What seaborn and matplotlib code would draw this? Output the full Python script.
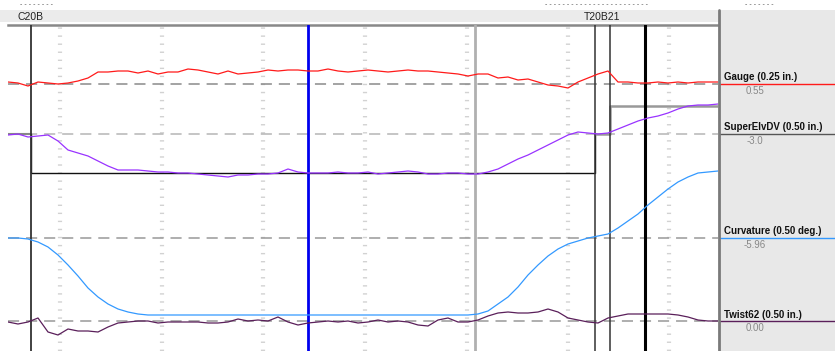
import numpy as np
import pandas as pd
import matplotlib
matplotlib.use("Agg")
import matplotlib.pyplot as plt
from matplotlib.lines import Line2D
from matplotlib.patches import Rectangle
import seaborn as sns

# distance along track (ft), one reading every 10 ft
distance = list(range(0, 720, 10))

gauge = [0.57, 0.56, 0.53, 0.57, 0.56, 0.55, 0.56, 0.58, 0.61, 0.67,
         0.67, 0.68, 0.68, 0.66, 0.68, 0.65, 0.67, 0.67, 0.70, 0.69,
         0.67, 0.65, 0.68, 0.65, 0.66, 0.67, 0.69, 0.68, 0.69, 0.69,
         0.68, 0.68, 0.70, 0.68, 0.67, 0.68, 0.69, 0.68, 0.67, 0.68,
         0.69, 0.68, 0.68, 0.67, 0.66, 0.65, 0.63, 0.65, 0.65, 0.61,
         0.62, 0.59, 0.60, 0.57, 0.54, 0.53, 0.51, 0.57, 0.61, 0.65,
         0.68, 0.57, 0.57, 0.56, 0.56, 0.57, 0.56, 0.57, 0.56, 0.57,
         0.57, 0.57]

super_elev = [-3.02, -3.00, -3.06, -3.04, -3.02, -3.14, -3.32, -3.38, -3.44, -3.54,
              -3.64, -3.72, -3.72, -3.72, -3.74, -3.76, -3.76, -3.78, -3.78, -3.80,
              -3.82, -3.84, -3.86, -3.82, -3.82, -3.80, -3.80, -3.78, -3.70, -3.76,
              -3.78, -3.78, -3.78, -3.76, -3.78, -3.78, -3.76, -3.80, -3.78, -3.76,
              -3.74, -3.76, -3.80, -3.80, -3.78, -3.78, -3.80, -3.80, -3.76, -3.70,
              -3.60, -3.50, -3.42, -3.32, -3.22, -3.12, -3.02, -2.96, -2.98, -3.00,
              -2.98, -2.90, -2.82, -2.74, -2.68, -2.64, -2.58, -2.50, -2.44, -2.42,
              -2.42, -2.40]

curvature = [-5.96, -5.96, -5.98, -6.04, -6.14, -6.30, -6.50, -6.72, -6.96, -7.14,
             -7.28, -7.38, -7.44, -7.48, -7.50, -7.50, -7.50, -7.50, -7.50, -7.50,
             -7.50, -7.50, -7.50, -7.50, -7.50, -7.50, -7.50, -7.50, -7.50, -7.50,
             -7.50, -7.50, -7.50, -7.50, -7.50, -7.50, -7.50, -7.50, -7.50, -7.50,
             -7.50, -7.50, -7.50, -7.50, -7.50, -7.50, -7.50, -7.48, -7.42, -7.28,
             -7.14, -6.94, -6.70, -6.50, -6.32, -6.18, -6.08, -6.02, -5.96, -5.92,
             -5.88, -5.76, -5.62, -5.48, -5.30, -5.14, -4.98, -4.84, -4.74, -4.66,
             -4.64, -4.62]

twist = [-0.02, -0.06, -0.02, 0.06, -0.22, -0.28, -0.16, -0.20, -0.20, -0.22,
         -0.12, -0.04, -0.02, 0.00, 0.00, -0.04, -0.02, -0.02, -0.02, -0.02,
         -0.04, -0.04, -0.02, 0.04, 0.00, 0.02, 0.00, 0.08, -0.02, -0.08,
         -0.04, -0.02, 0.00, -0.02, 0.00, -0.04, -0.02, 0.02, -0.02, 0.00,
         -0.02, -0.08, -0.10, 0.02, 0.06, -0.02, -0.02, 0.02, 0.10, 0.16,
         0.18, 0.16, 0.16, 0.18, 0.24, 0.18, 0.06, 0.02, -0.02, -0.04,
         0.06, 0.10, 0.14, 0.14, 0.14, 0.14, 0.14, 0.12, 0.08, 0.02,
         0.00, 0.00]

# design superelevation (step)
design_dist = [0, 23, 23, 587, 587, 602, 602, 710]
design_elev = [-3.00, -3.00, -3.78, -3.78, -3.00, -3.00, -2.44, -2.44]

# channel names, reference values, units per pixel row, lane row, colour
channels = ["Gauge (0.25 in.)", "SuperElvDV (0.50 in.)", "Curvature (0.50 deg.)", "Twist62 (0.50 in.)"]
ref_values = [0.55, -3.0, -5.96, 0.00]
ref_labels = ["0.55", "-3.0", "-5.96", "0.00"]
scales = [0.01, 0.02, 0.02, 0.02]
lane_rows = [84, 134, 238, 321]
colors = ["#ff1a1a", "#9933ff", "#3399ff", "#5a1f5a"]
panel_colors = ["#ff1a1a", "#555555", "#3399ff", "#5a1f5a"]

# event markers and grid positions (ft)
markers = [23, 300, 467, 587, 602, 637]
marker_colors = ["#333333", "#0000ee", "#b0b0b0", "#333333", "#333333", "#000000"]
marker_widths = [1.3, 2.0, 2.0, 1.1, 1.1, 2.2]
grid_dist = [52, 154, 255, 357, 459, 560, 661]

sns.set_style("white")
plt.rcParams["font.family"] = ["Liberation Sans", "DejaVu Sans"]
plt.rcParams["lines.scale_dashes"] = False

W, H = 835, 351
fig = plt.figure(figsize=(W / 100, H / 100), dpi=100)
fig.patch.set_facecolor("white")

# header band and right legend panel
fig.add_artist(Rectangle((0, 1 - 22 / H), 719 / W, 12 / H, transform=fig.transFigure,
                         facecolor="#ebebeb", edgecolor="none", zorder=0))
fig.add_artist(Rectangle((719 / W, 0), 1 - 719 / W, 1 - 10 / H, transform=fig.transFigure,
                         facecolor="#e8e8e8", edgecolor="none", zorder=0))
fig.add_artist(Line2D([719 / W, 719 / W], [0, 1 - 10 / H], transform=fig.transFigure,
                      color="#7a7a7a", lw=2, zorder=5))

fig.text(18 / W, 1 - 16.5 / H, "C20B", fontsize=7.5, va="center", ha="left", color="#222222")
fig.text(602 / W, 1 - 16.5 / H, "T20B21", fontsize=7.5, va="center", ha="center", color="#222222")
# faint marks along the top edge
fig.text(20 / W, 1 - 0.5 / H, "- - - - - - - -", fontsize=5, va="top", ha="left", color="#555555")
fig.text(545 / W, 1 - 0.5 / H, "- - - - - - - - - - - - - - - - - - - - - - - -", fontsize=5,
         va="top", ha="left", color="#555555")
fig.text(745 / W, 1 - 0.5 / H, "- - - - - - -", fontsize=5, va="top", ha="left", color="#555555")

# main trace area
ax = fig.add_axes([8 / W, 0, 710 / W, (H - 25) / H])
ax.set_facecolor("white")

frames = []
for name, vals, ref, sc, row in zip(channels, [gauge, super_elev, curvature, twist],
                                     ref_values, scales, lane_rows):
    df = pd.DataFrame({"distance": distance, "value": vals})
    df["row"] = row - (df["value"] - ref) / sc
    df["channel"] = name
    frames.append(df)
traces = pd.concat(frames, ignore_index=True)

for g in grid_dist:
    ax.axvline(g, color="#d2d2d2", lw=3, ls=(0, (1, 4.8)), zorder=1)

for row, ls_col in zip(lane_rows, ["#8a8a8a", "#b5b5b5", "#999999", "#999999"]):
    ax.axhline(row, color=ls_col, lw=1.1, ls=(0, (8, 5)), zorder=2)

design_rows = [lane_rows[1] - (v - ref_values[1]) / scales[1] for v in design_elev]
ax.plot(design_dist[:2], design_rows[:2], color="#888888", lw=1.5, zorder=3)
ax.plot(design_dist[1:5], design_rows[1:5], color="#111111", lw=1.0, zorder=3)
ax.plot(design_dist[4:], design_rows[4:], color="#999999", lw=1.8, zorder=3)

for m, c, w in zip(markers, marker_colors, marker_widths):
    ax.axvline(m, color=c, lw=w, zorder=4)

sns.lineplot(data=traces, x="distance", y="row", hue="channel", hue_order=channels,
             palette=colors, linewidth=0.9, legend=False, ax=ax, zorder=6,
             estimator=None, sort=False)

ax.set_xlim(0, 710)
ax.set_ylim(351, 25)
ax.set_xticks([])
ax.set_yticks([])
ax.set_xlabel("")
ax.set_ylabel("")
for side in ["left", "right", "bottom"]:
    ax.spines[side].set_visible(False)
ax.spines["top"].set_color("#888888")
ax.spines["top"].set_linewidth(1.8)

# legend panel on the right
pax = fig.add_axes([720 / W, 0, 1 - 720 / W, (H - 25) / H])
pax.patch.set_alpha(0)
pax.set_xlim(0, 115)
pax.set_ylim(351, 25)
pax.axis("off")
for name, lab, row, col in zip(channels, ref_labels, lane_rows, panel_colors):
    pax.axhline(row, color=col, lw=1.0)
    pax.text(4, row - 1.5, name, fontsize=7, fontweight="bold", ha="left", va="bottom", color="#111111")
    pax.text(35, row + 2, lab, fontsize=7, ha="center", va="top", color="#888888")

fig.savefig("out.png", dpi=100)
